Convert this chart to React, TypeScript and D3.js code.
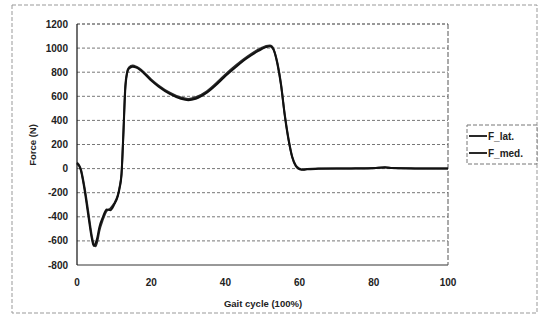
import React, { useEffect, useRef } from 'react';
import * as d3 from 'd3';

// gait cycle positions (%) and the two force curves (N)
const gaitX = [0, 1, 2, 3, 4, 4.5, 5, 5.5, 6, 7, 8, 9, 10, 11, 11.5, 12, 12.5, 13, 13.5, 14, 15, 16, 18, 20, 22, 25, 28, 30, 32, 35, 38, 40, 43, 46, 49, 50, 51, 52, 52.5, 53, 54, 55, 56, 57, 58, 59, 60, 61, 62, 65, 70, 75, 80, 83, 85, 90, 95, 100];
const fLat = [50, 0, -150, -350, -560, -630, -645, -600, -520, -420, -350, -330, -290, -220, -150, -40, 300, 680, 800, 840, 855, 845, 800, 740, 690, 630, 590, 578, 592, 642, 722, 782, 862, 932, 990, 1005, 1018, 1022, 1015, 990, 880, 700, 450, 250, 100, 25, 0, -8, -3, 0, 0, 2, 5, 10, 5, 2, 0, 0];
const fMed = [45, -10, -170, -380, -580, -640, -620, -570, -490, -400, -340, -345, -300, -230, -160, -50, 280, 650, 790, 830, 845, 838, 792, 730, 680, 620, 580, 568, 580, 630, 708, 768, 848, 920, 978, 995, 1008, 1015, 1008, 985, 870, 690, 440, 240, 95, 20, -5, -10, -5, -2, 0, 0, 3, 12, 4, 0, 0, 0];

const xTicks = [0, 20, 40, 60, 80, 100];
const yTicks = [-800, -600, -400, -200, 0, 200, 400, 600, 800, 1000, 1200];
const seriesNames = ['F_lat.', 'F_med.'];

const App = () => {
  const ref = useRef<SVGSVGElement>(null);

  useEffect(() => {
    const svg = d3.select(ref.current);
    svg.selectAll('*').remove();

    const left = 77, right = 448, top = 24, bottom = 265;
    const x = d3.scaleLinear().domain([0, 100]).range([left, right]);
    const y = d3.scaleLinear().domain([-800, 1200]).range([bottom, top]);

    svg.append('rect').attr('width', 539).attr('height', 324).attr('fill', '#fff');

    // outer frame of the chart area
    svg.append('rect')
      .attr('x', 12).attr('y', 5).attr('width', 525).attr('height', 308)
      .attr('fill', 'none').attr('stroke', '#999').attr('stroke-dasharray', '4,2');

    // horizontal grid
    svg.append('g')
      .selectAll('line')
      .data(yTicks)
      .join('line')
        .attr('x1', left).attr('x2', right)
        .attr('y1', d => y(d)).attr('y2', d => y(d))
        .attr('stroke', d => d === -800 || d === 1200 ? '#333' : '#777')
        .attr('stroke-width', 1)
        .attr('stroke-dasharray', d => d === -800 ? null : '3,2');

    // plot border
    svg.append('line').attr('x1', left).attr('x2', left).attr('y1', top).attr('y2', bottom)
      .attr('stroke', '#111').attr('stroke-width', 1.2);
    svg.append('line').attr('x1', right).attr('x2', right).attr('y1', top).attr('y2', bottom)
      .attr('stroke', '#555').attr('stroke-dasharray', '5,2');

    const font = 'Liberation Sans, Arial, sans-serif';

    svg.append('g')
      .selectAll('text')
      .data(yTicks)
      .join('text')
        .attr('x', 68).attr('y', d => y(d) + 3.5)
        .attr('text-anchor', 'end')
        .style('font', `bold 10px ${font}`)
        .attr('fill', '#222')
        .text(d => d);

    svg.append('g')
      .selectAll('text')
      .data(xTicks)
      .join('text')
        .attr('x', d => x(d)).attr('y', 285.5)
        .attr('text-anchor', 'middle')
        .style('font', `bold 10px ${font}`)
        .attr('fill', '#222')
        .text(d => d);

    svg.append('text')
      .attr('x', 263).attr('y', 306.5)
      .attr('text-anchor', 'middle')
      .style('font', `bold 9.5px ${font}`)
      .attr('fill', '#222')
      .text('Gait cycle (100%)');

    svg.append('text')
      .attr('transform', 'translate(36,145) rotate(-90)')
      .attr('text-anchor', 'middle')
      .style('font', `bold 9.5px ${font}`)
      .attr('fill', '#222')
      .text('Force (N)');

    const line = d3.line<number>()
      .x((_, i) => x(gaitX[i]))
      .y(d => y(d))
      .curve(d3.curveMonotoneX);

    svg.append('g')
      .selectAll('path')
      .data([fLat, fMed])
      .join('path')
        .attr('d', d => line(d))
        .attr('fill', 'none')
        .attr('stroke', (_, i) => i === 0 ? '#2a2a2a' : '#111')
        .attr('stroke-width', 2)
        .attr('stroke-linejoin', 'round');

    // legend
    const lg = svg.append('g');
    lg.append('rect')
      .attr('x', 467).attr('y', 125).attr('width', 70).attr('height', 39)
      .attr('fill', '#fff').attr('stroke', '#777').attr('stroke-dasharray', '4,2');
    const item = lg.selectAll('g')
      .data(seriesNames)
      .join('g')
        .attr('transform', (_, i) => `translate(0,${136 + i * 17})`);
    item.append('line')
      .attr('x1', 469).attr('x2', 487).attr('y1', 0).attr('y2', 0)
      .attr('stroke', '#111').attr('stroke-width', 1.8);
    item.append('text')
      .attr('x', 488).attr('y', 3.5)
      .style('font', `bold 10px ${font}`)
      .attr('fill', '#222')
      .text(d => d);
  }, []);

  return (
    <svg ref={ref} width="539" height="324" style={{ position: 'absolute', left: 0, top: 0 }}></svg>
  );
};

export default App;
